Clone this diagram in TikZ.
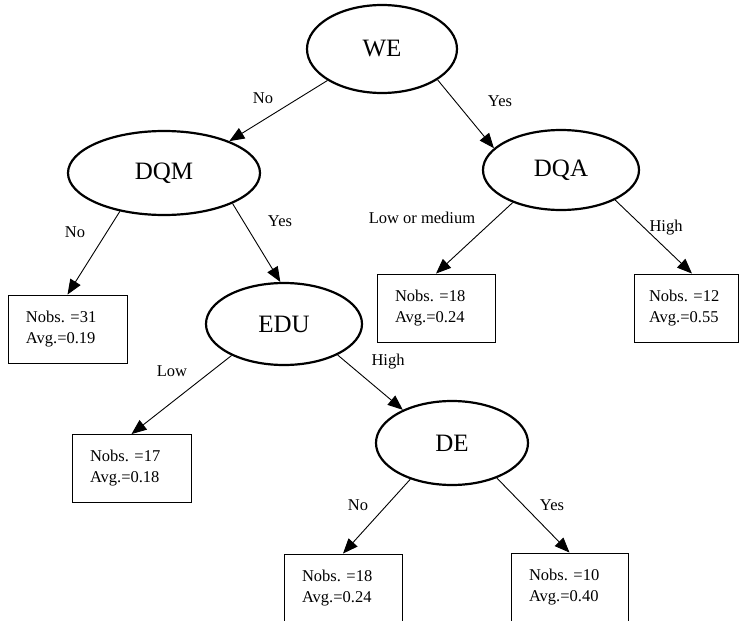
\documentclass[tikz,border=0pt]{standalone}
\usepackage{fontspec}
\setmainfont{Liberation Serif}
\frenchspacing
\usetikzlibrary{arrows.meta,shapes.geometric}
\tikzset{
  >={Triangle[length=15pt,width=12pt]},
  arr/.style={->, line width=0.9pt, draw=black},
  split/.style={ellipse, draw=black, line width=2.2pt, inner sep=0pt,
    font=\fontsize{25}{30}\selectfont},
  leaf/.style={rectangle, draw=black, line width=0.9pt, minimum height=68pt,
    inner xsep=18pt, inner ysep=0pt, text width=#1, align=left,
    font=\fontsize{16.5}{21}\selectfont},
  lbl/.style={font=\fontsize{16.5}{20}\selectfont, inner sep=0pt}
}
\begin{document}
\begin{tikzpicture}[x=1pt,y=-1pt]
  \useasboundingbox (0,0) rectangle (740,621);

  % Split nodes.
  \node[split, minimum width=150pt, minimum height=88pt] (we) at (382,49) {WE};
  \node[split, minimum width=192pt, minimum height=84pt] (dqm) at (164,173) {DQM};
  \node[split, minimum width=156pt, minimum height=80pt] (dqa) at (561,170) {DQA};
  \node[split, minimum width=156pt, minimum height=82pt] (edu) at (284,324) {EDU};
  \node[split, minimum width=152pt, minimum height=84pt] (de) at (452,443) {DE};

  % Leaves.
  \node[leaf=83pt] (l31) at (67.5,329) {Nobs. =31\\Avg.=0.19};
  \node[leaf=82pt] (l18a) at (436,308) {Nobs. =18\\Avg.=0.24};
  \node[leaf=74pt, inner xsep=15pt] (l12) at (686,308) {Nobs. =12\\Avg.=0.55};
  \node[leaf=83pt] (l17) at (131.5,468.5) {Nobs. =17\\Avg.=0.18};
  \node[leaf=82pt] (l18b) at (343,588) {Nobs. =18\\Avg.=0.24};
  \node[leaf=81pt] (l10) at (569.5,587) {Nobs. =10\\Avg.=0.40};

  % Branches.
  \draw[arr] (we.210) -- (dqm.26);
  \draw[arr] (we.331) -- (dqa.162);
  \draw[arr] (dqm.221) -- (l31.north);
  \draw[arr] (dqm.336) -- (edu.95);
  \draw[arr] (dqa.214) -- (l18a.north);
  \draw[arr] (dqa.331) -- ([xshift=6pt]l12.north);
  \draw[arr] (edu.211) -- (l17.north);
  \draw[arr] (edu.330) -- (de.146);
  \draw[arr] (de.221) -- (l18b.north);
  \draw[arr] (de.322) -- (l10.north);

  % Branch labels.
  \node[lbl] (tno1) at (263,98) {No};
  \node[lbl] (tyes1) at (500,101) {Yes};
  \node[lbl] (tno2) at (75,232) {No};
  \node[lbl] (tyes2) at (280,221) {Yes};
  \node[lbl] (tlow1) at (422,218) {Low or medium};
  \node[lbl] (thigh1) at (666,228) {High};
  \node[lbl] (tlow2) at (172,371) {Low};
  \node[lbl] (thigh2) at (388,362) {High};
  \node[lbl] (tno3) at (358,505) {No};
  \node[lbl] (tyes3) at (552,505) {Yes};
\end{tikzpicture}
\end{document}
